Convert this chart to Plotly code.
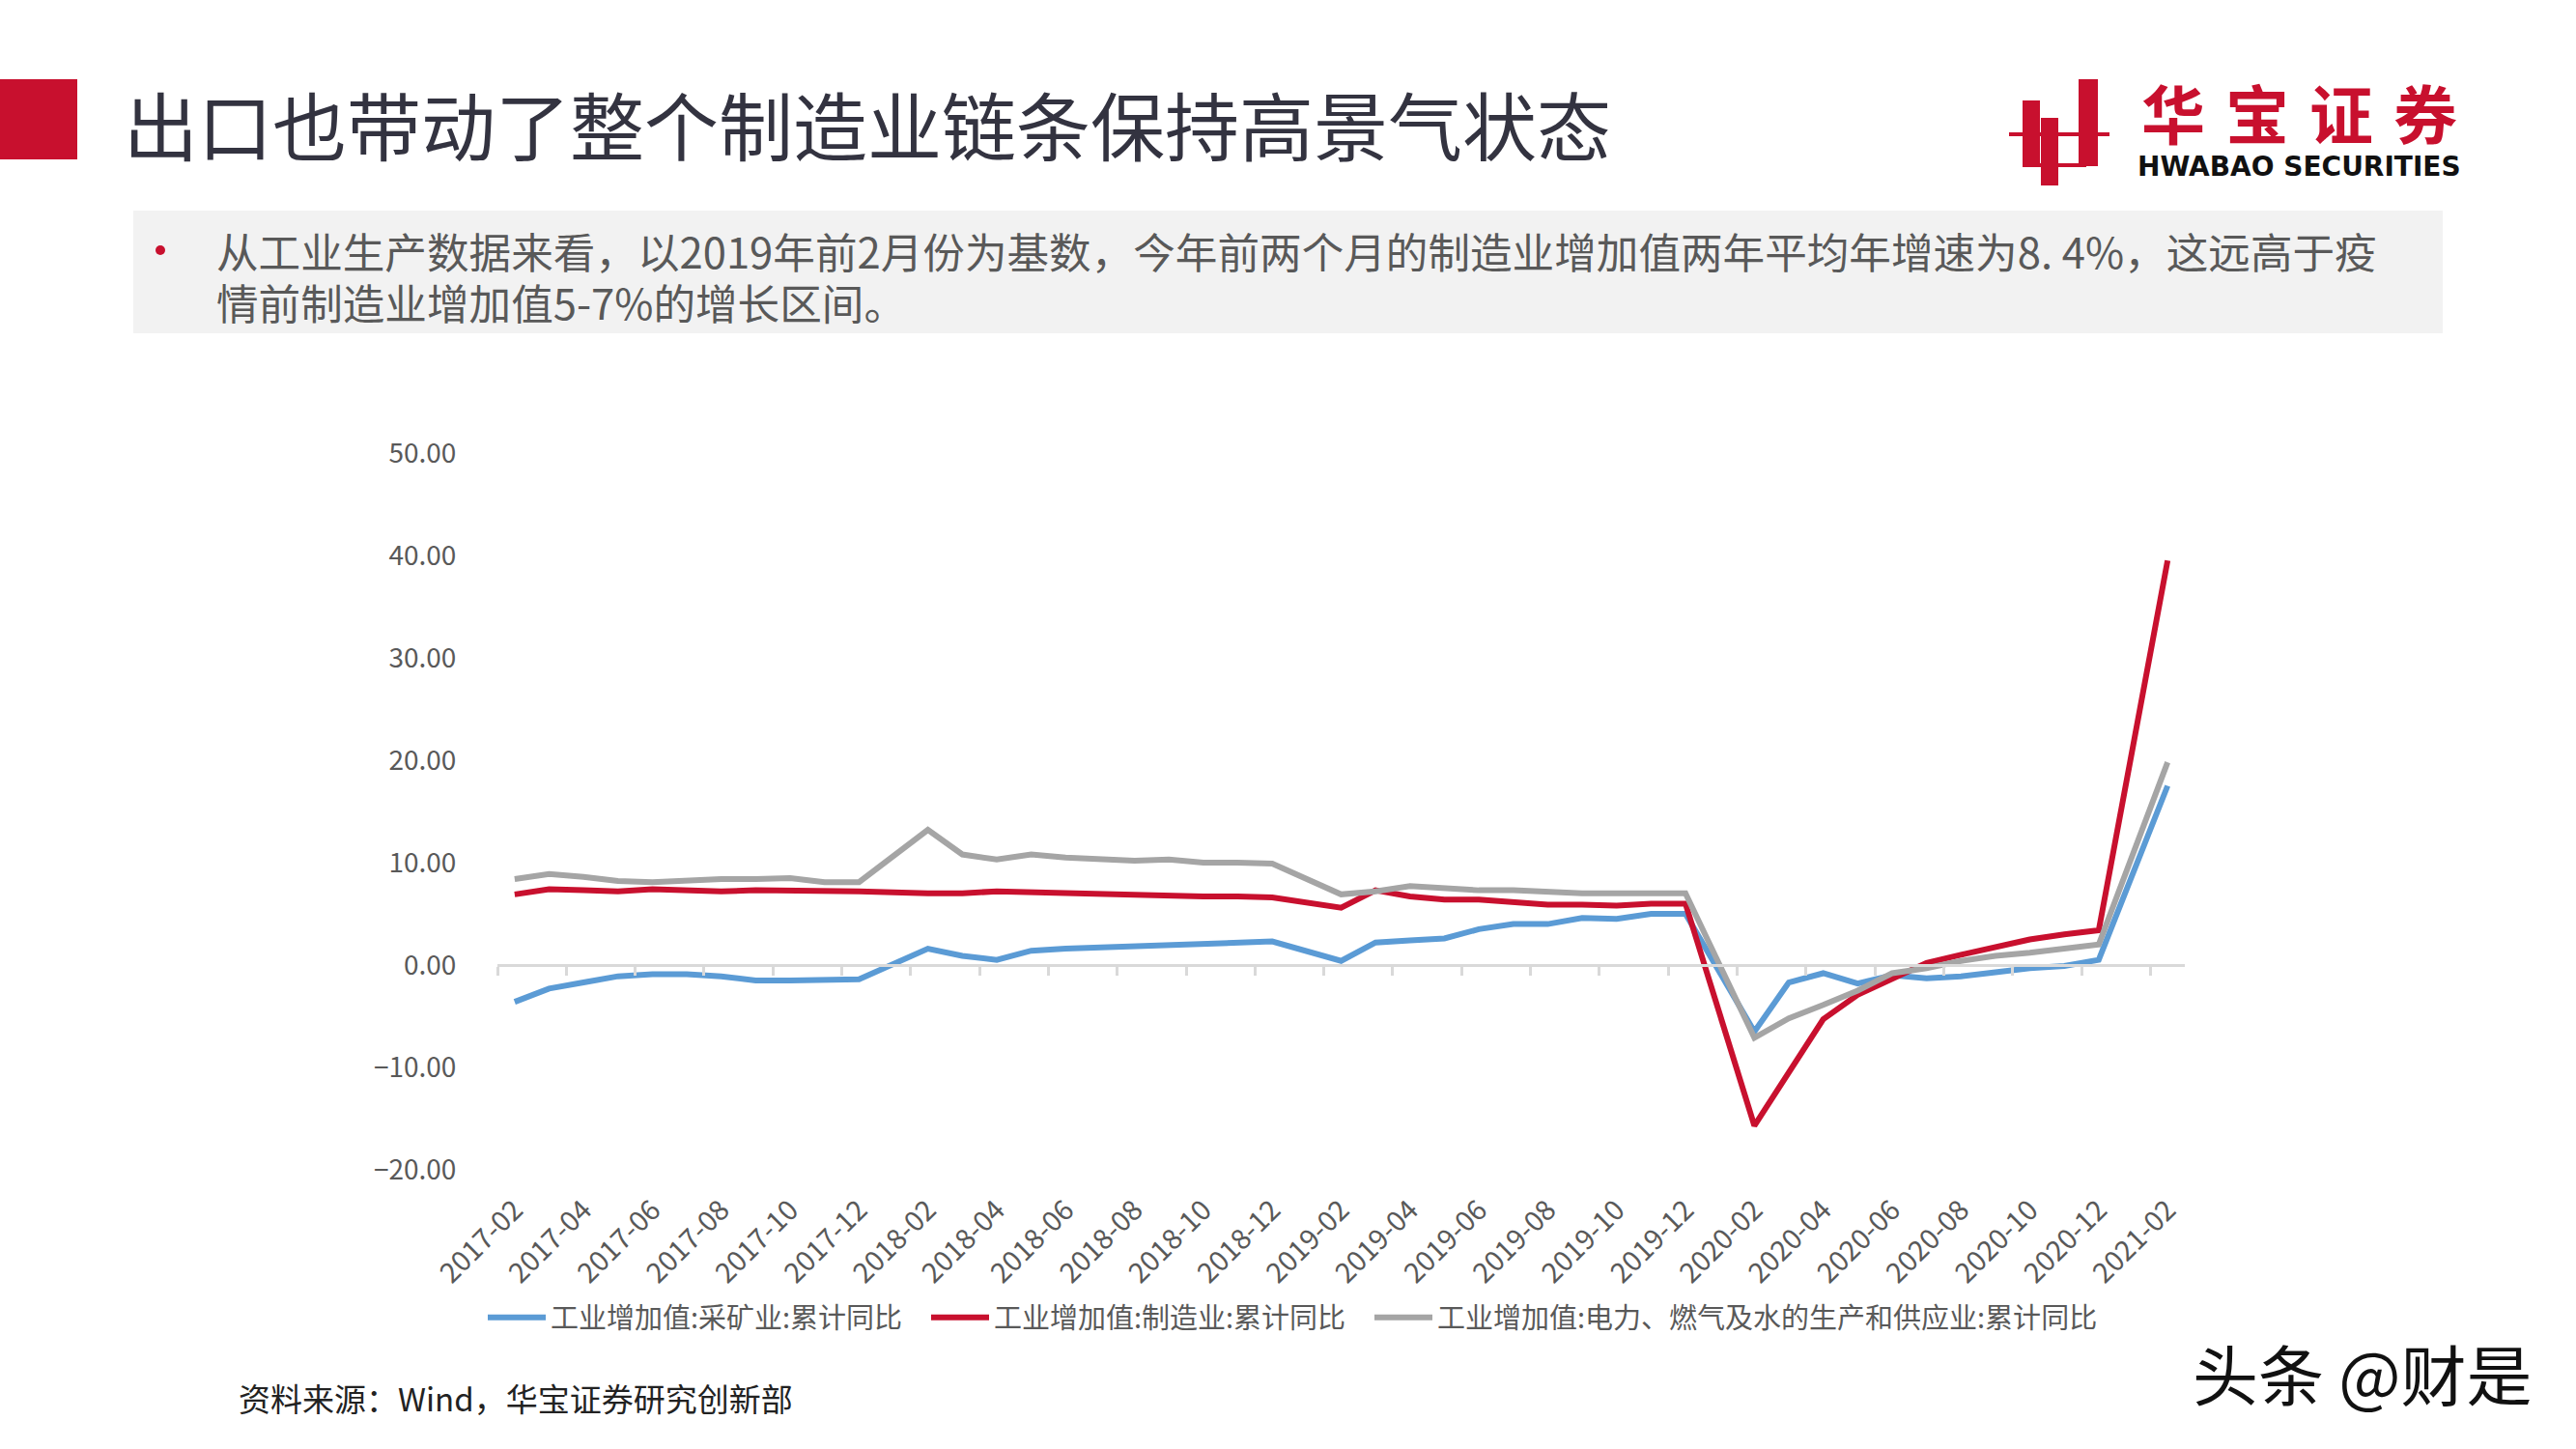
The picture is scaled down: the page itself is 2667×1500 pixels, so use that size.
import plotly.graph_objects as go

months = [
    "2017-02", "2017-03", "2017-04", "2017-05", "2017-06", "2017-07", "2017-08", "2017-09", "2017-10", "2017-11", "2017-12",
    "2018-01", "2018-02", "2018-03", "2018-04", "2018-05", "2018-06", "2018-07", "2018-08", "2018-09", "2018-10", "2018-11", "2018-12",
    "2019-01", "2019-02", "2019-03", "2019-04", "2019-05", "2019-06", "2019-07", "2019-08", "2019-09", "2019-10", "2019-11", "2019-12",
    "2020-01", "2020-02", "2020-03", "2020-04", "2020-05", "2020-06", "2020-07", "2020-08", "2020-09", "2020-10", "2020-11", "2020-12",
    "2021-01", "2021-02",
]

mining = [
    -3.6, -2.3, -1.7, -1.1, -0.9, -0.9, -1.1, -1.5, -1.5, -1.5, -1.4,
    None, 1.6, 0.9, 0.5, 1.4, 1.6, 1.7, 1.8, 1.9, 2.1, 2.2, 2.3,
    None, 0.4, 2.2, 2.4, 2.6, 3.5, 4.0, 4.0, 4.6, 4.5, 5.0, 5.0,
    None, -6.5, -1.7, -0.8, -1.8, -1.0, -1.3, -1.1, -0.7, -0.3, -0.1, 0.5,
    None, 17.5,
]

manufacturing = [
    6.9, 7.4, 7.3, 7.2, 7.4, 7.3, 7.2, 7.3, 7.3, 7.2, 7.2,
    None, 7.0, 7.0, 7.2, 7.1, 7.0, 6.9, 6.9, 6.8, 6.7, 6.7, 6.6,
    None, 5.6, 7.3, 6.7, 6.4, 6.4, 6.2, 5.9, 5.9, 5.8, 6.0, 6.0,
    None, -15.7, -10.5, -5.3, -2.9, -1.3, 0.2, 1.0, 1.8, 2.5, 3.0, 3.4,
    None, 39.5,
]

utilities = [
    8.4, 8.9, 8.6, 8.2, 8.1, 8.3, 8.4, 8.4, 8.5, 8.1, 8.1,
    None, 13.2, 10.8, 10.3, 10.8, 10.5, 10.3, 10.2, 10.3, 10.0, 10.0, 9.9,
    None, 6.9, 7.2, 7.7, 7.5, 7.3, 7.3, 7.1, 7.0, 7.0, 7.0, 7.0,
    None, -7.1, -5.2, -3.9, -2.5, -0.8, -0.3, 0.4, 0.9, 1.2, 1.6, 2.0,
    None, 19.8,
]

series_names = [
    "工业增加值:采矿业:累计同比",
    "工业增加值:制造业:累计同比",
    "工业增加值:电力、燃气及水的生产和供应业:累计同比",
]
series_colors = ["#5B9BD5", "#C8102E", "#A5A5A5"]

y_ticks = [-20, -10, 0, 10, 20, 30, 40, 50]

title_text = "出口也带动了整个制造业链条保持高景气状态"
body_lines = [
    "从工业生产数据来看，以2019年前2月份为基数，今年前两个月的制造业增加值两年平均年增速为8. 4%，这远高于疫",
    "情前制造业增加值5-7%的增长区间。",
]
source_text = "资料来源：Wind，华宝证券研究创新部"
watermark_text = "头条 @财是"
logo_cn = "华宝证券"
logo_en = "HWABAO SECURITIES"

# ---------------- layout geometry ----------------
W, H = 2667, 1500
ML, MR, MT, MB = 515, 405, 469, 289
PW = W - ML - MR
PH = H - MT - MB
FONT = "Noto Sans CJK SC"
RED = "#C8102E"


def px_x(px):
    return (px - ML) / PW


def px_y(py):
    return (H - MB - py) / PH


x_idx = list(range(len(months)))
ymin, ymax = y_ticks[0], y_ticks[-1]

legend_ids = ["legend", "legend2", "legend3"]
legend_left_px = [500, 959, 1418]

fig = go.Figure()
for vals, name, col, lg in zip([mining, manufacturing, utilities], series_names, series_colors, legend_ids):
    fig.add_trace(go.Scatter(
        x=x_idx, y=vals, name=name, mode="lines", connectgaps=True,
        line=dict(color=col, width=6, shape="linear"),
        hoverinfo="skip", legend=lg,
    ))

# invisible trace to activate the zero-line axis
fig.add_trace(go.Scatter(x=[x_idx[0], x_idx[-1]], y=[0, 0], xaxis="x2", mode="lines",
                         line=dict(width=0), showlegend=False, hoverinfo="skip"))

label_vals = x_idx[::2]
label_text = months[::2]
boundary_ticks = [i - 0.5 for i in x_idx[::2]]
xrange_ = [x_idx[0] - 0.5, x_idx[-1] + 0.5]

legend_style = dict(
    orientation="h", y=px_y(1364), xanchor="left", yanchor="middle",
    font=dict(size=29, color="#595959", family=FONT), bgcolor="rgba(0,0,0,0)",
    itemwidth=60,
)
legend_layout = {lg: dict(legend_style, x=px_x(lx)) for lg, lx in zip(legend_ids, legend_left_px)}

fig.update_layout(
    width=W, height=H,
    margin=dict(l=ML, r=MR, t=MT, b=MB),
    paper_bgcolor="white", plot_bgcolor="white",
    font=dict(family=FONT, color="#595959"),
    showlegend=True,
    **legend_layout,
    xaxis=dict(
        range=xrange_, tickmode="array", tickvals=label_vals, ticktext=label_text,
        tickangle=-45, showgrid=False, zeroline=False, showline=False,
        ticks="outside", ticklen=12, tickcolor="rgba(0,0,0,0)",
        tickfont=dict(size=29, color="#595959", family=FONT),
    ),
    xaxis2=dict(
        range=xrange_, overlaying="x", anchor="free",
        position=(0 - ymin) / (ymax - ymin), side="bottom",
        tickmode="array", tickvals=boundary_ticks, showticklabels=False,
        ticks="outside", ticklen=9, tickwidth=3, tickcolor="#D9D9D9",
        showline=True, linecolor="#D9D9D9", linewidth=3, showgrid=False, zeroline=False,
    ),
    yaxis=dict(
        range=[ymin, ymax], tickmode="array", tickvals=y_ticks, tickformat=".2f",
        showgrid=False, zeroline=False, showline=False,
        ticks="outside", ticklen=36, tickcolor="rgba(0,0,0,0)",
        tickfont=dict(size=28, color="#595959", family=FONT),
    ),
)

annotations = []
annotations.append(dict(text=title_text, x=px_x(126), y=px_y(128), xref="paper", yref="paper",
                        xanchor="left", yanchor="middle", showarrow=False,
                        font=dict(size=77, color="#333340", family=FONT)))
for k, line in enumerate(body_lines):
    annotations.append(dict(text=line, x=px_x(222), y=px_y(259 + 53 * k), xref="paper", yref="paper",
                            xanchor="left", yanchor="middle", align="left", showarrow=False,
                            font=dict(size=43.6, color="#595959", family=FONT)))
annotations.append(dict(text=source_text, x=px_x(245), y=px_y(1447), xref="paper", yref="paper",
                        xanchor="left", yanchor="middle", showarrow=False,
                        font=dict(size=33, color="#222222", family=FONT)))
annotations.append(dict(text=watermark_text, x=px_x(2268), y=px_y(1420), xref="paper", yref="paper",
                        xanchor="left", yanchor="middle", showarrow=False,
                        font=dict(size=68, color="#111111", family=FONT)))
# logo chinese characters, spread across the logo width
for k, ch in enumerate(logo_cn):
    annotations.append(dict(text="<b>" + ch + "</b>", x=px_x(2250 + 87 * k), y=px_y(115), xref="paper", yref="paper",
                            xanchor="center", yanchor="middle", showarrow=False,
                            font=dict(size=66, color=RED, family=FONT)))
annotations.append(dict(text="<b>" + logo_en + "</b>", x=px_x(2380), y=px_y(173), xref="paper", yref="paper",
                        xanchor="center", yanchor="middle", showarrow=False,
                        font=dict(size=28, color="#111111", family="DejaVu Sans")))
fig.update_layout(annotations=annotations)


def rect(x0, y0, x1, y1, color, layer="below"):
    return dict(type="rect", xref="paper", yref="paper",
                x0=px_x(x0), x1=px_x(x1), y0=px_y(y0), y1=px_y(y1),
                fillcolor=color, line=dict(width=0), layer=layer)


shapes = [
    rect(0, 82, 80, 165, RED),
    rect(138, 218, 2529, 345, "#F2F2F2"),
    dict(type="circle", xref="paper", yref="paper",
         x0=px_x(161), x1=px_x(171), y0=px_y(254), y1=px_y(264),
         fillcolor=RED, line=dict(width=0), layer="above"),
    # logo icon (stylised)
    rect(2080, 137, 2184, 141, RED, "above"),
    rect(2094, 104, 2112, 172, RED, "above"),
    rect(2113, 122, 2131, 192, RED, "above"),
    rect(2152, 82, 2172, 172, RED, "above"),
    rect(2094, 169, 2160, 173, RED, "above"),
]
fig.update_layout(shapes=shapes)

fig.write_html("out.html")
